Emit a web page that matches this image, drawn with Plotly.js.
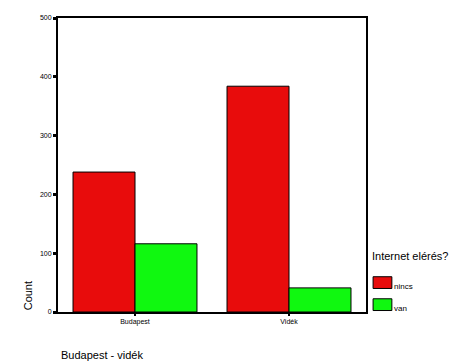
<!DOCTYPE html>
<html><head><meta charset="utf-8">
<script src="https://cdn.plot.ly/plotly-3.0.1.min.js"></script>
<style>body{margin:0;background:#fff}#c{width:455px;height:364px}</style>
</head><body><div id="c"></div>
<script>
const categories = ["Budapest", "Vidék"];
const seriesNames = ["nincs", "van"];
const nincs = [238, 384];
const van = [116, 41];
const seriesColors = ["rgb(232,12,12)", "rgb(16,248,16)"];
const yTicks = [0, 100, 200, 300, 400, 500];
const legendTitle = "Internet elérés?";
const xTitle = "Budapest - vidék";
const yTitle = "Count";

const values = [nincs, van];
const traces = values.map((v, i) => ({
  type: "bar", x: categories, y: v, name: seriesNames[i],
  marker: {color: seriesColors[i], line: {color: "#000", width: 1}},
  hoverinfo: "none"
}));

const font = "Liberation Sans, Arial, sans-serif";
const shapes = [], annotations = [];
// legend
annotations.push({xref:"paper", yref:"paper", x:1.012, y:0.19, xanchor:"left", yanchor:"middle",
  text: legendTitle, showarrow:false, font:{family:font, size:11, color:"#000"}});
seriesNames.forEach((n, i) => {
  const yc = 0.10 - i*0.075;
  shapes.push({type:"rect", xref:"paper", yref:"paper", x0:1.023, x1:1.084, y0:yc-0.02, y1:yc+0.02,
    fillcolor: seriesColors[i], line:{color:"#000", width:1}});
  annotations.push({xref:"paper", yref:"paper", x:1.085, y:yc-0.012, xanchor:"left", yanchor:"middle",
    text:n, showarrow:false, font:{family:font, size:8, color:"#000"}});
});
annotations.push({xref:"paper", yref:"paper", x:-0.098, y:0.0, xanchor:"center", yanchor:"bottom",
  text:yTitle, textangle:-90, showarrow:false, font:{family:font, size:11, color:"#000"}});
annotations.push({xref:"paper", yref:"paper", x:0.003, y:-0.12, xanchor:"left", yanchor:"top",
  text:xTitle, showarrow:false, font:{family:font, size:11, color:"#000"}});

Plotly.newPlot("c", traces, {
  width:455, height:364,
  margin:{l:58, r:89, t:18, b:52},
  paper_bgcolor:"#fff", plot_bgcolor:"#fff",
  barmode:"group", bargap:0.195, bargroupgap:0,
  showlegend:false,
  font:{family:font, color:"#000"},
  xaxis:{showline:true, linecolor:"#000", linewidth:2, mirror:true, ticks:"outside", ticklen:2, tickwidth:2,
    tickcolor:"#000", tickfont:{size:7, family:font}, showgrid:false, zeroline:false, fixedrange:true},
  yaxis:{range:[0,500], tickvals:yTicks, ticktext:yTicks.map(String), showline:true, linecolor:"#000", linewidth:2, mirror:true,
    ticks:"outside", ticklen:3, tickwidth:3, tickcolor:"#000", tickfont:{size:7, family:font},
    showgrid:false, zeroline:false, fixedrange:true},
  shapes, annotations
}, {staticPlot:true});
</script></body></html>
